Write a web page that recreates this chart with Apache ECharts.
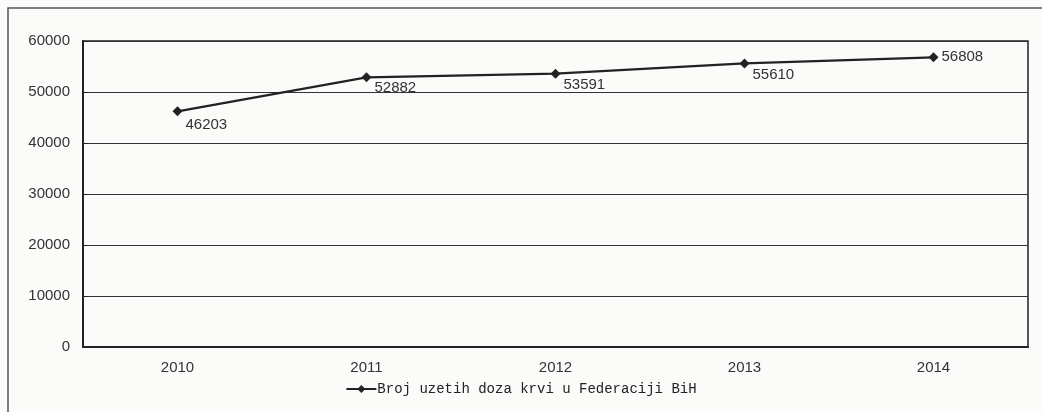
<!DOCTYPE html>
<html>
<head>
<meta charset="utf-8">
<script src="https://cdn.jsdelivr.net/npm/echarts@6/dist/echarts.min.js"></script>
<style>
  html, body { margin: 0; padding: 0; background: #fbfbfa; }
  #chart { width: 1042px; height: 412px; }
</style>
</head>
<body>
<div id="chart"></div>
<script>
var years = ['2010', '2011', '2012', '2013', '2014']
var doses = [46203, 52882, 53591, 55610, 56808]
var seriesName = 'Broj uzetih doza krvi u Federaciji BiH'
// per point label placement, as in the scanned chart
var labelOffsets = [[0, 13], [0, 11], [0, 11], [0, 11], [0, 0]]

var chart = echarts.init(document.getElementById('chart'), null, { renderer: 'canvas' })

var option = {
  backgroundColor: '#fbfbfa',
  animation: false,
  graphic: [{
    type: 'rect',
    shape: { x: 8, y: 8, width: 1060, height: 420 },
    style: { fill: 'none', stroke: '#555', lineWidth: 1.5 }
  }],
  grid: {
    left: 83,
    right: 14,
    top: 41,
    bottom: 65,
    show: true,
    borderColor: '#222',
    borderWidth: 1.5
  },
  legend: {
    bottom: 11,
    left: 'center',
    itemWidth: 30,
    itemHeight: 10,
    itemGap: 0,
    textStyle: {
      fontFamily: 'Liberation Mono',
      fontSize: 14,
      color: '#222',
      padding: [0, 0, 0, -4]
    },
    data: [seriesName]
  },
  xAxis: {
    type: 'category',
    data: years,
    boundaryGap: true,
    axisLine: { lineStyle: { color: '#222', width: 2 } },
    axisTick: { show: false },
    axisLabel: {
      margin: 13,
      fontFamily: 'Liberation Sans',
      fontSize: 15,
      color: '#333'
    }
  },
  yAxis: {
    type: 'value',
    min: 0,
    max: 60000,
    interval: 10000,
    axisLine: { show: true, lineStyle: { color: '#222', width: 2 } },
    axisTick: { show: true, inside: true, length: 5, lineStyle: { color: '#222' } },
    splitLine: { lineStyle: { color: '#333', width: 1.2 } },
    axisLabel: {
      margin: 13,
      fontFamily: 'Liberation Sans',
      fontSize: 15,
      color: '#333',
      formatter: function (v) { return String(v) }
    }
  },
  series: [{
    name: seriesName,
    type: 'line',
    data: doses.map(function (v, i) {
      return {
        value: v,
        label: { offset: labelOffsets[i] }
      }
    }),
    symbol: 'diamond',
    symbolSize: 10,
    lineStyle: { color: '#222', width: 2.2 },
    itemStyle: { color: '#222' },
    label: {
      show: true,
      position: 'right',
      distance: 3,
      fontFamily: 'Liberation Sans',
      fontSize: 15,
      color: '#333'
    }
  }]
}

chart.setOption(option)
</script>
</body>
</html>
